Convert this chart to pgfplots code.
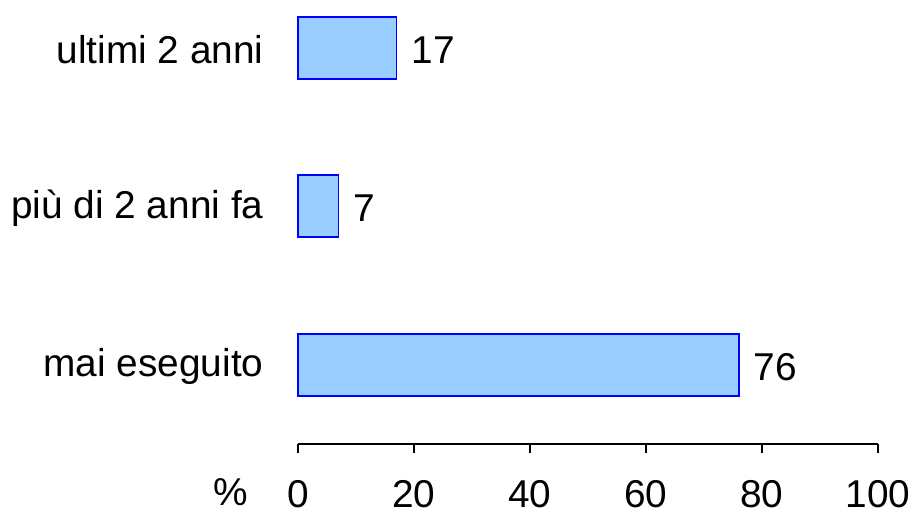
\documentclass[border=0pt]{standalone}
\usepackage{pgfplots}
\pgfplotsset{compat=1.18}
\usepackage{fontspec}
\setmainfont{Liberation Sans}
\definecolor{barfill}{RGB}{153,204,255}
\definecolor{barline}{RGB}{0,0,255}
\newcommand{\chartfont}{\fontsize{19.4}{23}\selectfont}
\begin{document}
\begin{tikzpicture}
\useasboundingbox (-149pt,-38pt) rectangle (308pt,222pt);
\begin{axis}[
  at={(0,0)}, anchor=south west,
  scale only axis, x=2.9pt, y=79.25pt,
  xmin=0, xmax=100, ymin=-0.5, ymax=2.3,
  xbar, bar width=31pt,
  axis x line*=bottom, axis y line*=left,
  y axis line style={draw=none},
  x axis line style={line width=0.9pt},
  xtick={0,20,40,60,80,100},
  ytick={0,1,2},
  yticklabels={mai eseguito, più di 2 anni fa, ultimi 2 anni},
  ytick style={draw=none},
  xtick style={line width=0.9pt, black},
  tick align=outside,
  major tick length=4.5pt,
  /pgf/number format/assume math mode=true,
  tick label style={font=\chartfont},
  xticklabel style={anchor=base, yshift=-27pt},
  yticklabel style={anchor=east, xshift=-9.2pt, yshift=-1pt},
  nodes near coords,
  nodes near coords style={font=\chartfont, anchor=west, xshift=3.7pt, yshift=-1pt, black},
  clip=false,
]
\addplot[fill=barfill, draw=barline, line width=0.9pt] coordinates {(76,0) (7,1) (17,2)};
\end{axis}
\node[anchor=base, font=\chartfont] at (-33.5pt,-30.5pt) {\%};
\end{tikzpicture}
\end{document}
